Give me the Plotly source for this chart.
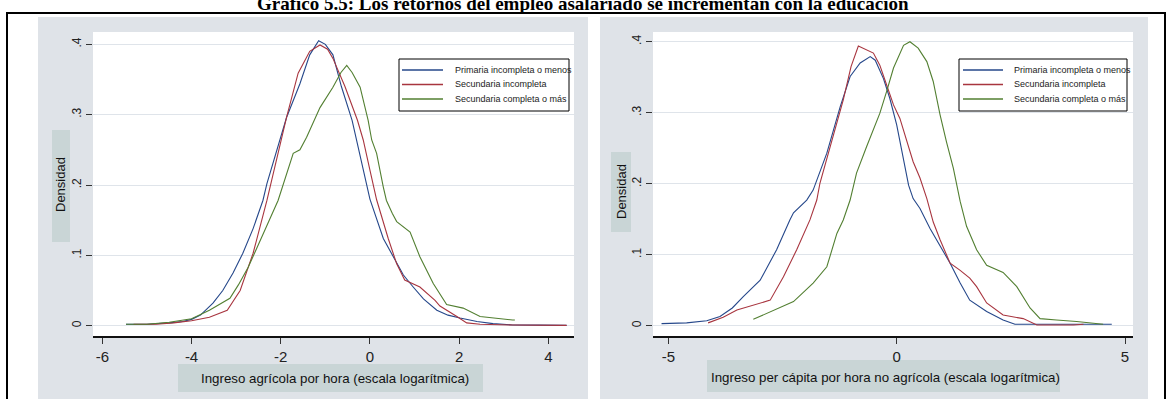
import plotly.graph_objects as go

W, H = 1169, 399

# ---- Data: kernel density estimates (read as x, density pairs) ----
# Left panel: agricultural hourly income (log scale)
agr_prim_x = [-5.47, -5.0, -4.5, -4.2, -4.0, -3.8, -3.52, -3.3, -3.07, -2.85, -2.62, -2.40, -2.31,
              -2.09, -1.87, -1.57, -1.35, -1.15, -1.0, -0.83, -0.64, -0.40, -0.30, -0.15, 0.0,
              0.30, 0.52, 0.75, 0.97, 1.2, 1.5, 1.75, 2.02, 2.4, 2.76, 3.2, 3.8, 4.41]
agr_prim_y = [0.002, 0.002, 0.004, 0.006, 0.009, 0.015, 0.032, 0.050, 0.075, 0.103, 0.138, 0.178, 0.202,
              0.249, 0.296, 0.344, 0.385, 0.405, 0.400, 0.385, 0.340, 0.292, 0.264, 0.221, 0.180,
              0.124, 0.098, 0.072, 0.055, 0.038, 0.022, 0.015, 0.011, 0.006, 0.003, 0.001, 0.0008, 0.0005]

agr_seci_x = [-5.3, -4.8, -4.4, -4.0, -3.6, -3.2, -2.91, -2.62, -2.31, -2.1, -1.87, -1.61, -1.35,
              -1.12, -0.95, -0.83, -0.56, -0.28, -0.15, 0.0, 0.15, 0.41, 0.60, 0.78, 1.12, 1.46,
              1.57, 1.95, 2.17, 2.47, 3.2, 4.41]
agr_seci_y = [0.002, 0.002, 0.004, 0.007, 0.012, 0.022, 0.050, 0.103, 0.178, 0.235, 0.296, 0.359, 0.390,
              0.399, 0.393, 0.380, 0.340, 0.292, 0.264, 0.221, 0.179, 0.124, 0.088, 0.065, 0.055, 0.036,
              0.028, 0.013, 0.004, 0.002, 0.001, 0.0005]

agr_secc_x = [-5.47, -5.0, -4.5, -4.0, -3.6, -3.3, -3.14, -2.95, -2.73, -2.39, -2.06, -1.72, -1.57,
              -1.42, -1.12, -0.83, -0.65, -0.52, -0.40, -0.22, -0.04, 0.04, 0.15, 0.30, 0.37, 0.50,
              0.60, 0.90, 1.12, 1.42, 1.72, 2.09, 2.47, 3.2, 3.25]
agr_secc_y = [0.002, 0.002, 0.005, 0.010, 0.022, 0.033, 0.039, 0.058, 0.083, 0.131, 0.178, 0.245, 0.250,
              0.268, 0.310, 0.339, 0.360, 0.370, 0.360, 0.339, 0.292, 0.264, 0.245, 0.197, 0.178, 0.160,
              0.148, 0.133, 0.098, 0.060, 0.030, 0.025, 0.013, 0.008, 0.008]

# Right panel: non-agricultural per-capita hourly income (log scale)
nag_prim_x = [-5.15, -4.6, -4.16, -3.87, -3.6, -3.36, -2.99, -2.63, -2.34, -2.26, -1.97, -1.83, -1.53,
              -1.24, -1.02, -0.80, -0.58, -0.47, -0.29, -0.15, 0.0, 0.15, 0.26, 0.36, 0.51, 0.73,
              0.99, 1.17, 1.39, 1.60, 1.97, 2.33, 2.59, 3.07, 4.71]
nag_prim_y = [0.003, 0.004, 0.007, 0.013, 0.025, 0.041, 0.064, 0.107, 0.149, 0.159, 0.177, 0.191, 0.243,
              0.308, 0.351, 0.370, 0.379, 0.374, 0.348, 0.320, 0.283, 0.236, 0.198, 0.179, 0.165, 0.137,
              0.109, 0.088, 0.060, 0.036, 0.020, 0.008, 0.002, 0.002, 0.002]

nag_seci_x = [-4.13, -3.8, -3.50, -3.1, -2.77, -2.48, -2.19, -1.90, -1.75, -1.68, -1.46, -1.17, -1.0,
              -0.84, -0.51, -0.37, -0.22, -0.07, 0.07, 0.18, 0.29, 0.36, 0.51, 0.66, 0.80, 0.95,
              1.17, 1.39, 1.60, 1.75, 1.97, 2.33, 2.77, 3.07, 3.87, 4.09]
nag_seci_y = [0.004, 0.012, 0.022, 0.030, 0.036, 0.069, 0.107, 0.149, 0.177, 0.201, 0.252, 0.318, 0.365,
              0.394, 0.384, 0.367, 0.339, 0.311, 0.292, 0.269, 0.245, 0.231, 0.208, 0.179, 0.146, 0.121,
              0.088, 0.078, 0.067, 0.055, 0.032, 0.015, 0.010, 0.001, 0.001, 0.002]

nag_secc_x = [-3.14, -2.7, -2.26, -1.83, -1.53, -1.31, -1.17, -1.02, -0.88, -0.66, -0.37, -0.22, -0.07,
              0.15, 0.29, 0.47, 0.66, 0.80, 0.95, 1.09, 1.24, 1.39, 1.53, 1.75, 1.97, 2.33, 2.63,
              2.92, 3.14, 3.50, 3.94, 4.52]
nag_secc_y = [0.009, 0.022, 0.034, 0.060, 0.083, 0.130, 0.149, 0.177, 0.215, 0.252, 0.299, 0.330, 0.363,
              0.395, 0.400, 0.391, 0.372, 0.344, 0.297, 0.259, 0.222, 0.175, 0.140, 0.107, 0.085, 0.075,
              0.055, 0.025, 0.010, 0.008, 0.006, 0.002]

series_names = ["Primaria incompleta o menos", "Secundaria incompleta", "Secundaria completa o más"]
series_colors = ["#25478a", "#a8353f", "#527f31"]

y_tickvals = [0, 0.1, 0.2, 0.3, 0.4]
y_ticktext = ["0", ".1", ".2", ".3", ".4"]
left_xticks = [-6, -4, -2, 0, 2, 4]
right_xticks = [-5, 0, 5]

title_text = "Gráfico 5.5: Los retornos del empleo asalariado se incrementan con la educación"
left_xtitle = "Ingreso agrícola por hora (escala logarítmica)"
right_xtitle = "Ingreso per cápita por hora no agrícola (escala logarítmica)"
y_title = "Densidad"


def px(x):
    return x / W


def py(y):
    return 1 - y / H


fig = go.Figure()

left = [(agr_prim_x, agr_prim_y), (agr_seci_x, agr_seci_y), (agr_secc_x, agr_secc_y)]
right = [(nag_prim_x, nag_prim_y), (nag_seci_x, nag_seci_y), (nag_secc_x, nag_secc_y)]
for (xs, ys), name, col in zip(left, series_names, series_colors):
    fig.add_trace(go.Scatter(x=xs, y=ys, mode="lines", name=name, showlegend=False,
                             line=dict(color=col, width=1.1), xaxis="x", yaxis="y"))
for (xs, ys), name, col in zip(right, series_names, series_colors):
    fig.add_trace(go.Scatter(x=xs, y=ys, mode="lines", name=name, showlegend=False,
                             line=dict(color=col, width=1.1), xaxis="x2", yaxis="y2"))

PANEL = "#dfe3e8"
BOX = "#c9d5d6"
GRID = "#dfe4ea"
NARROW = "Liberation Sans Narrow, Arial Narrow, Liberation Sans, Arial"
TICKFONT_X = dict(family=NARROW, size=15, color="#222")
TICKFONT_Y = dict(family="Liberation Sans, Arial", size=12, color="#222")

xcommon = dict(showline=True, linecolor="#111", linewidth=1.6, ticks="outside", ticklen=6,
               tickwidth=1, tickcolor="#333", showgrid=False, zeroline=False,
               tickfont=TICKFONT_X, mirror=False)
ycommon = dict(showline=False, ticks="outside", ticklen=6, tickwidth=1, tickcolor="#333",
               showgrid=True, gridcolor=GRID, gridwidth=1.3, zeroline=False,
               tickvals=y_tickvals, ticktext=y_ticktext, tickangle=-90, tickfont=TICKFONT_Y)

fig.update_layout(
    width=W, height=H, autosize=False,
    margin=dict(l=0, r=0, t=0, b=0),
    paper_bgcolor="white", plot_bgcolor="rgba(0,0,0,0)",
    xaxis=dict(domain=[px(93), px(574)], range=[-6.21, 4.576], tickvals=left_xticks,
               ticktext=[str(v) for v in left_xticks], anchor="y", **xcommon),
    yaxis=dict(domain=[py(336), py(32)], range=[-0.01464, 0.4175], anchor="x", **ycommon),
    xaxis2=dict(domain=[px(653), px(1133)], range=[-5.337, 5.175], tickvals=right_xticks,
                ticktext=[str(v) for v in right_xticks], anchor="y2", **xcommon),
    yaxis2=dict(domain=[py(336), py(32)], range=[-0.0145, 0.4137], anchor="x2", **ycommon),
)


def rect(x0, y0, x1, y1, fill, line=None, layer="below", lw=0):
    return dict(type="rect", xref="paper", yref="paper", x0=px(x0), x1=px(x1), y0=py(y1), y1=py(y0),
                fillcolor=fill, line=dict(color=line or fill, width=lw), layer=layer)


shapes = [
    # panel backgrounds
    rect(38, 17, 588, 405, PANEL),
    rect(600, 17, 1148, 405, PANEL),
    # plot regions
    rect(93, 32, 574, 336, "white"),
    rect(653, 32, 1133, 336, "white"),
    # axis title boxes
    rect(52, 130, 70, 242, BOX),
    rect(178, 364, 483, 392, BOX),
    rect(611, 152, 631, 232, BOX),
    rect(707, 360, 1060, 392, BOX),
]
# outer frame
shapes.append(dict(type="rect", xref="paper", yref="paper", x0=px(7), x1=px(1165), y0=py(420), y1=py(13),
                   fillcolor="rgba(0,0,0,0)", line=dict(color="black", width=2), layer="above"))

annotations = [
    dict(text="<b>" + title_text + "</b>", x=px(583), y=py(3), xref="paper", yref="paper",
         showarrow=False, xanchor="center", yanchor="middle",
         font=dict(family="Liberation Serif, Times New Roman, serif", size=19, color="black")),
    dict(text=left_xtitle, x=px(335), y=py(378), xref="paper", yref="paper", showarrow=False,
         xanchor="center", yanchor="middle", font=dict(family=NARROW, size=13.3, color="#111")),
    dict(text=right_xtitle, x=px(885), y=py(377), xref="paper", yref="paper", showarrow=False,
         xanchor="center", yanchor="middle", font=dict(family=NARROW, size=13.3, color="#111")),
    dict(text=y_title, x=px(61), y=py(185), xref="paper", yref="paper", showarrow=False, textangle=-90,
         xanchor="center", yanchor="middle", font=dict(family="Liberation Sans, Arial", size=13, color="#111")),
    dict(text=y_title, x=px(621), y=py(192), xref="paper", yref="paper", showarrow=False, textangle=-90,
         xanchor="center", yanchor="middle", font=dict(family="Liberation Sans, Arial", size=13, color="#111")),
]

# legends (one per panel)
for bx0, bx1, lx0, lx1, tx in [(399, 569, 402, 443, 453), (959, 1127, 963, 1003, 1012)]:
    shapes.append(dict(type="rect", xref="paper", yref="paper", x0=px(bx0), x1=px(bx1), y0=py(111), y1=py(59),
                       fillcolor="white", line=dict(color="black", width=1), layer="above"))
    for i, (name, col) in enumerate(zip(series_names, series_colors)):
        yy = 70 + i * 14.5
        shapes.append(dict(type="line", xref="paper", yref="paper", x0=px(lx0), x1=px(lx1), y0=py(yy), y1=py(yy),
                           line=dict(color=col, width=1.3), layer="above"))
        annotations.append(dict(text=name, x=px(tx), y=py(yy), xref="paper", yref="paper", showarrow=False,
                                xanchor="left", yanchor="middle",
                                font=dict(family=NARROW, size=9, color="#222")))

fig.update_layout(shapes=shapes, annotations=annotations)
fig.write_html("out.html")
